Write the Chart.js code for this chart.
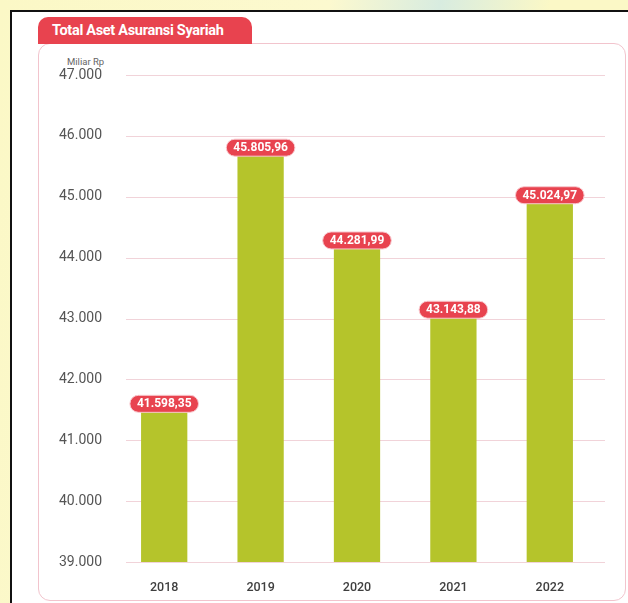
<!DOCTYPE html>
<html>
<head>
<meta charset="utf-8">
<script src="https://cdn.jsdelivr.net/npm/chart.js@4.4.0/dist/chart.umd.min.js"></script>
<style>
    html, body { margin: 0; padding: 0; }
    body {
        width: 628px; height: 603px; overflow: hidden; position: relative;
        background: linear-gradient(100deg, #fbf8c6 0%, #fcf9cf 45%, #d8ece0 60%, #fbf8c6 75%);
        font-family: Roboto, "Noto Sans", sans-serif;
    }
    #panel {
        position: absolute; left: 10px; top: 10px; right: -5px; bottom: -5px;
        background: #fff; border-left: 2px solid #111; border-top: 2px solid #111;
    }
    #card {
        position: absolute; left: 38px; top: 43px; width: 586px; height: 556px;
        border: 1.5px solid #f2c4cd; border-radius: 12px; background: #fff;
    }
    #tab {
        position: absolute; left: 38px; top: 17px; width: 214px; height: 27px;
        background: #e8434f; border-radius: 10px 10px 0 0;
        color: #fff; font-weight: bold; font-size: 14.5px; line-height: 27px;
        padding-left: 14px; box-sizing: border-box; letter-spacing: -0.3px;
    }
    #unit {
        position: absolute; left: 67px; top: 56px; font-size: 9.5px; color: #666;
    }
    #chart { position: absolute; left: 0; top: 0; }
</style>
</head>
<body>
<div id="panel"></div>
<div id="card"></div>
<div id="tab">Total Aset Asuransi Syariah</div>
<div id="unit">Miliar Rp</div>
<canvas id="chart" width="628" height="603"></canvas>
<script>
// data
const years = ['2018', '2019', '2020', '2021', '2022'];
const totalAset = [41598.35, 45805.96, 44281.99, 43143.88, 45024.97];
const yTicks = [39000, 40000, 41000, 42000, 43000, 44000, 45000, 46000, 47000];

function formatId(value, decimals) {
    let parts = value.toFixed(decimals).split('.');
    let intPart = parts[0].replace(/\B(?=(\d{3})+(?!\d))/g, '.');
    return parts[1] ? intPart + ',' + parts[1] : intPart;
}

// grid lines run a bit wider than the bars' frame
const gridPlugin = {
    id: 'gridLines',
    beforeDatasetsDraw(chart) {
        const ctx = chart.ctx;
        const y = chart.scales.y;
        ctx.save();
        ctx.strokeStyle = '#f1d3d9';
        ctx.lineWidth = 1;
        yTicks.forEach(v => {
            const py = Math.round(y.getPixelForValue(v)) + 0.5;
            ctx.beginPath();
            ctx.moveTo(126, py);
            ctx.lineTo(605, py);
            ctx.stroke();
        });
        ctx.restore();
    }
};

// red pill labels on top of bars
const pillPlugin = {
    id: 'pills',
    afterDatasetsDraw(chart) {
        const ctx = chart.ctx;
        const meta = chart.getDatasetMeta(0);
        ctx.save();
        ctx.font = 'bold 12px Roboto, sans-serif';
        ctx.textAlign = 'center';
        ctx.textBaseline = 'middle';
        meta.data.forEach((bar, i) => {
            const text = formatId(totalAset[i], 2);
            const w = ctx.measureText(text).width + 14;
            const h = 17;
            const cx = bar.x;
            const cy = bar.y;
            ctx.beginPath();
            ctx.roundRect(cx - w / 2, cy - h / 2, w, h, h / 2);
            ctx.fillStyle = '#e8434f';
            ctx.fill();
            ctx.lineWidth = 1;
            ctx.strokeStyle = '#f8c9cf';
            ctx.stroke();
            ctx.fillStyle = '#fff';
            ctx.fillText(text, cx, cy + 0.5);
        });
        ctx.restore();
    }
};

new Chart(document.querySelector('#chart').getContext('2d'), {
    type: 'bar',
    data: {
        labels: years,
        datasets: [{
            data: totalAset,
            backgroundColor: '#b5c42b',
            barPercentage: 0.48,
            categoryPercentage: 1
        }]
    },
    options: {
        responsive: false,
        animation: false,
        layout: { padding: { top: 75, right: 30, bottom: 0, left: 0 } },
        plugins: { legend: { display: false }, tooltip: { enabled: false } },
        scales: {
            x: {
                grid: { display: false },
                border: { display: false },
                ticks: { color: '#3f3f3f', font: { size: 12.5, family: 'Roboto', weight: '500' }, padding: 10 },
                afterFit: scale => { scale.height = 41; }
            },
            y: {
                min: 39000,
                max: 47000,
                afterBuildTicks: scale => { scale.ticks = yTicks.map(v => ({ value: v })); },
                grid: { display: false },
                border: { display: false },
                ticks: {
                    color: '#555',
                    font: { size: 14, family: 'Roboto' },
                    padding: 6,
                    callback: v => formatId(v, 0)
                },
                afterFit: scale => { scale.width = 116; }
            }
        }
    },
    plugins: [gridPlugin, pillPlugin]
});
</script>
</body>
</html>
